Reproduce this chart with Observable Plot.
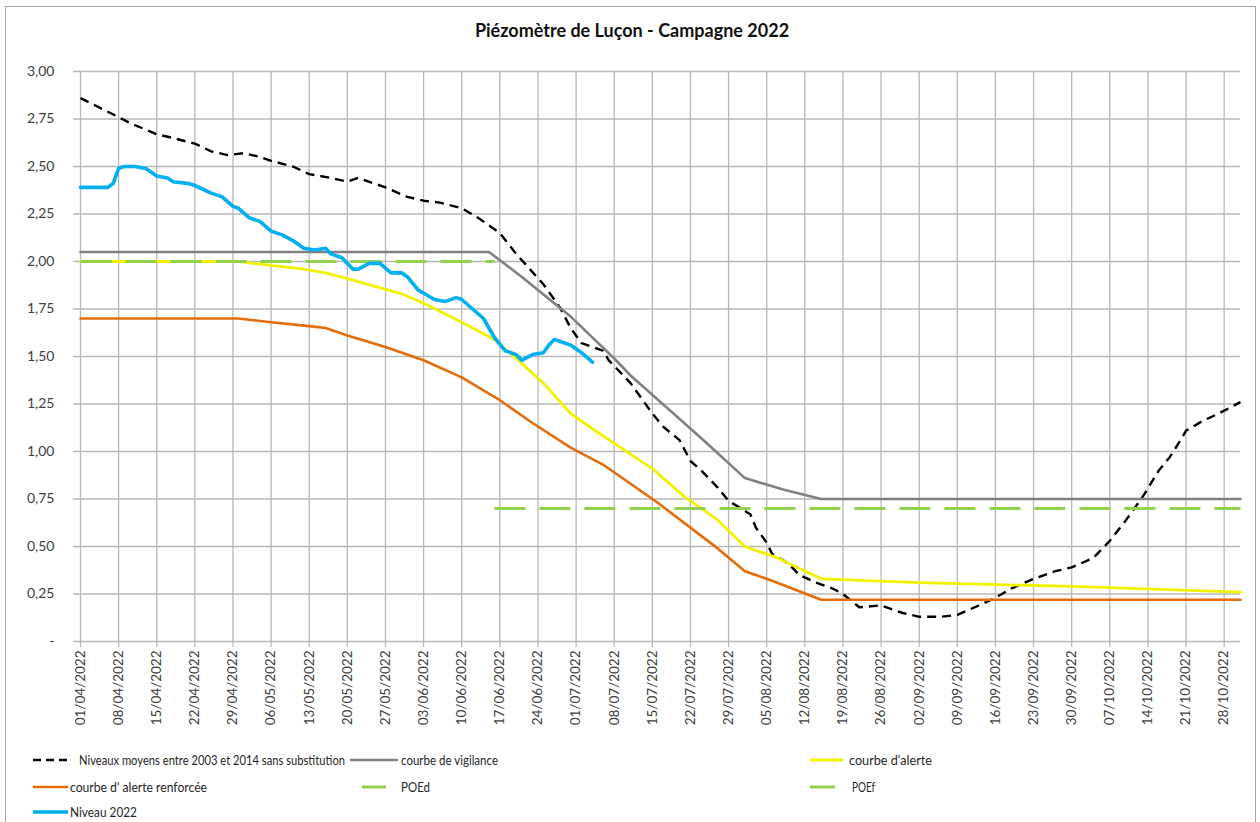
<!DOCTYPE html>
<html>
<head>
<meta charset="utf-8">
<script src="https://cdn.jsdelivr.net/npm/d3@7"></script>
<script src="https://cdn.jsdelivr.net/npm/@observablehq/plot@0.6"></script>
<style>
  body { margin:0; background:#fff; width:1260px; height:822px; overflow:hidden; position:relative; font-family: Lato, "Open Sans", sans-serif; }
  #frame { position:absolute; left:5px; top:6px; width:1251px; height:840px; border:1.5px solid #a6a6a6; box-sizing:border-box; }
  #title { position:absolute; left:0; width:1264px; top:19px; text-align:center; font-weight:bold; font-size:18px; color:#111; }
  #chart { position:absolute; left:0; top:50px; }
  #legend { position:absolute; left:0; top:740px; }
</style>
</head>
<body>
<div id="frame"></div>
<div id="title">Piézomètre de Luçon - Campagne 2022</div>
<div id="chart"></div>
<svg id="legend" width="1260" height="82"></svg>
<script>
// ---------- DATA ----------
const seriesNames = [
  "Niveaux moyens entre 2003 et 2014 sans substitution",
  "courbe de vigilance",
  "courbe d'alerte",
  "courbe d' alerte renforcée",
  "POEd",
  "POEf",
  "Niveau 2022"
];

const moyensDates = ["01/04","08/04","10/04","15/04","18/04","22/04","25/04","28/04","01/05","04/05","06/05","10/05","13/05","17/05","20/05","22/05","27/05","31/05","03/06","06/06","10/06","13/06","17/06","20/06","25/06","28/06","30/06","02/07","06/07","07/07","11/07","15/07","17/07","20/07","22/07","24/07","27/07","29/07","02/08","03/08","05/08","06/08","09/08","11/08","14/08","17/08","19/08","22/08","26/08","30/08","02/09","06/09","09/09","13/09","16/09","19/09","23/09","27/09","30/09","04/10","07/10","10/10","13/10","16/10","18/10","20/10","21/10","24/10","27/10","31/10"];
const moyensValues = [2.86,2.76,2.73,2.67,2.65,2.62,2.58,2.56,2.57,2.55,2.53,2.50,2.46,2.44,2.42,2.44,2.39,2.34,2.32,2.31,2.28,2.23,2.15,2.04,1.88,1.76,1.65,1.57,1.53,1.48,1.36,1.20,1.13,1.06,0.95,0.90,0.81,0.74,0.67,0.60,0.52,0.46,0.41,0.35,0.31,0.28,0.25,0.18,0.19,0.15,0.13,0.13,0.14,0.19,0.23,0.28,0.33,0.37,0.39,0.44,0.53,0.64,0.76,0.90,0.97,1.06,1.11,1.16,1.20,1.26];

const vigilanceDates = ["01/04","15/06","21/06","30/06","08/07","11/07","24/07","01/08","08/08","15/08","31/10"];
const vigilanceValues = [2.05,2.05,1.92,1.71,1.49,1.40,1.07,0.86,0.80,0.75,0.75];

const alerteDates = ["01/04","30/04","06/05","12/05","16/05","20/05","30/05","03/06","10/06","16/06","20/06","25/06","30/06","05/07","15/07","21/07","27/07","01/08","07/08","15/08","02/09","30/09","31/10"];
const alerteValues = [2.00,2.00,1.98,1.96,1.94,1.91,1.83,1.78,1.68,1.59,1.49,1.36,1.20,1.10,0.91,0.76,0.64,0.50,0.44,0.33,0.31,0.29,0.26];

const renforceeDates = ["01/04","30/04","06/05","13/05","16/05","20/05","27/05","03/06","10/06","17/06","23/06","30/06","06/07","16/07","27/07","01/08","06/08","15/08","31/10"];
const renforceeValues = [1.70,1.70,1.68,1.66,1.65,1.61,1.55,1.48,1.39,1.27,1.15,1.02,0.93,0.73,0.49,0.37,0.32,0.22,0.22];

const poedDates = ["01/04","16/06"];
const poedValues = [2.00,2.00];
const poefDates = ["16/06","31/10"];
const poefValues = [0.70,0.70];

const niveauDates = ["01/04","06/04","07/04","08/04","09/04","11/04","13/04","14/04","15/04","17/04","18/04","21/04","22/04","25/04","27/04","29/04","30/04","02/05","04/05","06/05","08/05","10/05","12/05","14/05","16/05","17/05","19/05","21/05","22/05","24/05","26/05","28/05","30/05","31/05","02/06","05/06","07/06","09/06","10/06","12/06","14/06","16/06","18/06","20/06","21/06","23/06","25/06","26/06","27/06","29/06","30/06","02/07","04/07"];
const niveauValues = [2.39,2.39,2.41,2.49,2.50,2.50,2.49,2.47,2.45,2.44,2.42,2.41,2.40,2.36,2.34,2.29,2.28,2.23,2.21,2.16,2.14,2.11,2.07,2.06,2.07,2.04,2.02,1.96,1.96,1.99,1.99,1.94,1.94,1.92,1.85,1.80,1.79,1.81,1.80,1.75,1.70,1.60,1.53,1.51,1.48,1.51,1.52,1.56,1.59,1.57,1.56,1.52,1.47];

const xTickLabels = ["01/04/2022","08/04/2022","15/04/2022","22/04/2022","29/04/2022","06/05/2022","13/05/2022","20/05/2022","27/05/2022","03/06/2022","10/06/2022","17/06/2022","24/06/2022","01/07/2022","08/07/2022","15/07/2022","22/07/2022","29/07/2022","05/08/2022","12/08/2022","19/08/2022","26/08/2022","02/09/2022","09/09/2022","16/09/2022","23/09/2022","30/09/2022","07/10/2022","14/10/2022","21/10/2022","28/10/2022"];
const yTicks = [0,0.25,0.5,0.75,1,1.25,1.5,1.75,2,2.25,2.5,2.75,3];
const yTickLabels = ["-","0,25","0,50","0,75","1,00","1,25","1,50","1,75","2,00","2,25","2,50","2,75","3,00"];
const xDomain = ["01/04","31/10"];

// ---------- STYLES ----------
const styles = [
  {stroke:"#000000", strokeWidth:2.4, dash:"9,6"},
  {stroke:"#808080", strokeWidth:2.6, dash:null},
  {stroke:"#f2f200", strokeWidth:2.8, dash:null},
  {stroke:"#e46c0a", strokeWidth:2.6, dash:null},
  {stroke:"#92d050", strokeWidth:3, dash:"31,14"},
  {stroke:"#92d050", strokeWidth:3, dash:"31,14"},
  {stroke:"#00b0f0", strokeWidth:3.6, dash:null}
];

// ---------- BUILD ----------
const parseDM = s => new Date(Date.UTC(2022, +s.slice(3,5) - 1, +s.slice(0,2)));
const rows = (dates, values) => dates.map((d,i) => ({date: parseDM(d), value: values[i]}));

const seriesData = [
  rows(moyensDates, moyensValues),
  rows(vigilanceDates, vigilanceValues),
  rows(alerteDates, alerteValues),
  rows(renforceeDates, renforceeValues),
  rows(poedDates, poedValues),
  rows(poefDates, poefValues),
  rows(niveauDates, niveauValues)
];

const xTicks = xTickLabels.map(s => parseDM(s.slice(0,5)));
const xLabel = d => xTickLabels[xTicks.findIndex(t => +t === +d)];
const yLabel = d => yTickLabels[yTicks.indexOf(d)];

const gridColor = "#b8b8b8";

const marks = [
  Plot.ruleY(yTicks, {stroke: gridColor, strokeWidth: 1.3, insetLeft: -7}),
  Plot.ruleX(xTicks, {stroke: gridColor, strokeWidth: 1.3, insetBottom: -6}),
  Plot.axisY(yTicks, {tickSize: 0, tickPadding: 26, tickFormat: yLabel, fontSize: 14, label: null}),
  Plot.axisX(xTicks, {tickSize: 0, tickPadding: 9, tickRotate: -90, tickFormat: xLabel, fontSize: 13.5, label: null})
];
seriesData.forEach((data, i) => {
  const s = styles[i];
  const opts = {x: "date", y: "value", stroke: s.stroke, strokeWidth: s.strokeWidth, strokeLinejoin: "round"};
  if (s.dash) { opts.strokeDasharray = s.dash; opts.strokeLinecap = "butt"; }
  marks.push(Plot.line(data, opts));
});

const chart = Plot.plot({
  width: 1260,
  height: 690,
  marginTop: 21,
  marginBottom: 99,
  marginLeft: 80,
  marginRight: 20,
  x: {type: "utc", domain: xDomain.map(parseDM), label: null},
  y: {domain: [0, 3], label: null},
  style: {fontFamily: "Lato, 'Open Sans', sans-serif", fontSize: "13.5px", color: "#404040", background: "transparent"},
  marks
});
document.getElementById("chart").appendChild(chart);

// ---------- LEGEND ----------
const legendItems = [
  {i:0, x1:33, x2:72, tx:79, y:20, w:266},
  {i:1, x1:350, x2:398, tx:401, y:20, w:97},
  {i:2, x1:810, x2:843, tx:849, y:20, w:83},
  {i:3, x1:33, x2:68, tx:70, y:47, w:137},
  {i:4, x1:362, x2:386, tx:401, y:47, w:29},
  {i:5, x1:810, x2:835, tx:852, y:47, w:23},
  {i:6, x1:33, x2:68, tx:70, y:72, w:67}
];
const leg = d3.select("#legend");
legendItems.forEach(it => {
  const s = styles[it.i];
  const ln = leg.append("line")
    .attr("x1", it.x1).attr("x2", it.x2).attr("y1", it.y).attr("y2", it.y)
    .attr("stroke", s.stroke).attr("stroke-width", s.strokeWidth);
  if (it.i === 0) ln.attr("stroke-dasharray", "8,5");
  leg.append("text")
    .attr("x", it.tx).attr("y", it.y).attr("dy", "0.35em")
    .attr("font-family", "Lato, 'Open Sans', sans-serif")
    .attr("font-size", 14)
    .attr("fill", "#262626")
    .attr("textLength", it.w)
    .attr("lengthAdjust", "spacingAndGlyphs")
    .text(seriesNames[it.i]);
});
</script>
</body>
</html>
